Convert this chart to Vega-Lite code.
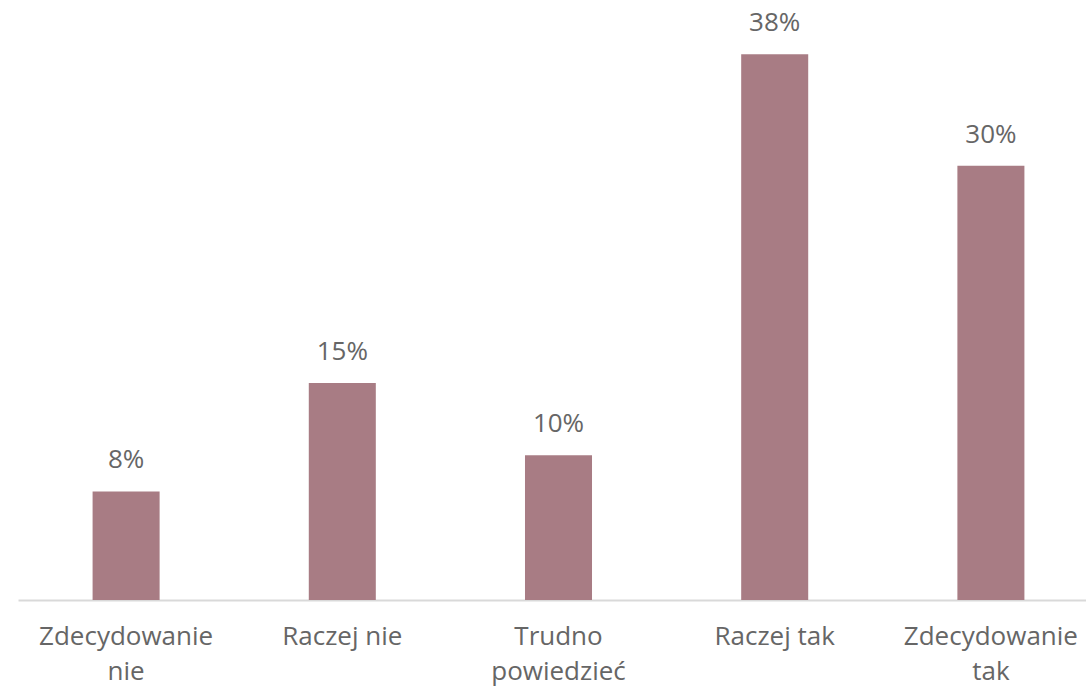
{
  "$schema": "https://vega.github.io/schema/vega-lite/v6.json",
  "autosize": {"type": "none"},
  "width": 1081,
  "height": 579,
  "padding": {"left": 18, "top": 21, "right": 0, "bottom": 88},
  "background": "white",
  "config": {"view": {"stroke": null}, "font": "Open Sans"},
  "data": {
    "values": [
      {"answer": "Zdecydowanie nie", "value": 7.5, "label": "8%"},
      {"answer": "Raczej nie", "value": 15.0, "label": "15%"},
      {"answer": "Trudno powiedzieć", "value": 10.0, "label": "10%"},
      {"answer": "Raczej tak", "value": 37.7, "label": "38%"},
      {"answer": "Zdecydowanie tak", "value": 30.0, "label": "30%"}
    ]
  },
  "encoding": {
    "x": {
      "field": "answer",
      "type": "nominal",
      "sort": null,
      "scale": {"paddingInner": 0.69, "paddingOuter": 0.345},
      "axis": {
        "title": null,
        "labelAngle": 0,
        "labelFont": "Open Sans",
        "labelFontSize": 26,
        "labelColor": "#666666",
        "labelPadding": 23,
        "labelLineHeight": 35,
        "labelExpr": "(datum.label == 'Raczej nie' || datum.label == 'Raczej tak') ? datum.label : split(datum.label, ' ')",
        "ticks": false,
        "domainColor": "#d9d9d9",
        "domainWidth": 2,
        "grid": false
      }
    },
    "y": {
      "field": "value",
      "type": "quantitative",
      "scale": {"domain": [0, 40], "nice": false},
      "axis": null
    }
  },
  "layer": [
    {"mark": {"type": "bar", "color": "#a87c84"}},
    {
      "mark": {"type": "text", "baseline": "alphabetic", "dy": -23, "fontSize": 26, "font": "Open Sans", "color": "#666666"},
      "encoding": {"text": {"field": "label"}}
    }
  ]
}
